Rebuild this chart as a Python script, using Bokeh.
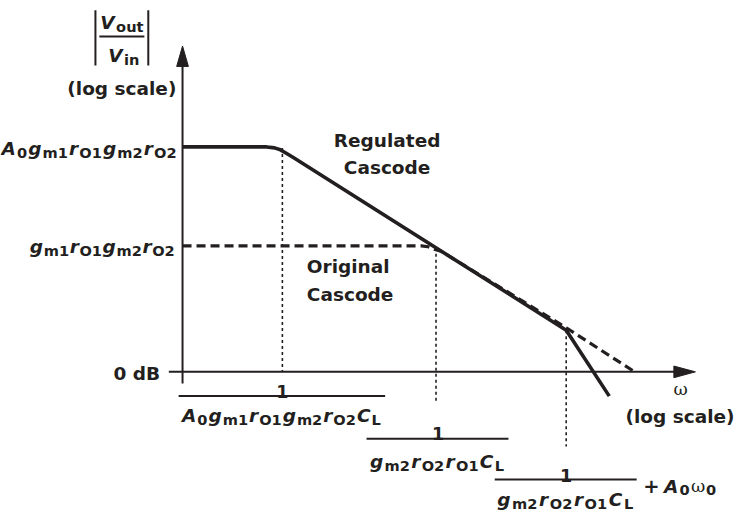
from bokeh.plotting import figure
from bokeh.models import Range1d
from bokeh.core.properties import value
from bokeh.embed import file_html
from bokeh.resources import INLINE

# ---------------- data ----------------
# diagram units: x = log(omega), y = log|Vout/Vin|; origin = axis crossing (0 dB)
reg_x = [0, 86, 94, 100, 106, 114, 392, 436]          # regulated cascode
reg_y = [232, 232, 231, 229, 225.5, 220.5, 43, -25]
orig_x = [0, 244, 251, 257, 264, 392, 462]             # original cascode
orig_y = [130, 130, 129, 126.5, 124.5, 45.5, 0]
pole_x = [102, 259, 392]                               # corner frequencies
pole_top = [231, 128, 43]                              # curve level at each corner

# label contents (text, kind): I = italic symbol, S = subscript, G = greek
ytick_top = [("A", "I"), ("0", "S"), ("g", "I"), ("m1", "S"), ("r", "I"), ("O1", "S"),
             ("g", "I"), ("m2", "S"), ("r", "I"), ("O2", "S")]
ytick_mid = ytick_top[2:]
ytick_zero = "0 dB"
den1 = ytick_top + [("C", "I"), ("L", "S")]
den2 = [("g", "I"), ("m2", "S"), ("r", "I"), ("O2", "S"), ("r", "I"), ("O1", "S"),
        ("C", "I"), ("L", "S")]
den3 = den2
extra3 = [("A", "I"), ("0", "S"), ("ω", "G"), ("0", "S")]
curve_labels = [["Regulated", "Cascode"], ["Original", "Cascode"]]
axis_scale = "(log scale)"
x_symbol = "ω"

# ---------------- styling ----------------
INK = "#231f20"
FONT = "DejaVu Sans"
CW, CH = 736, 511            # canvas size
RW, RH = 752, 527            # layout size (layout units)
PX, PY = RW / CW, RH / CH    # layout units per canvas pixel
KINDS = {
    "I": dict(font=FONT, size=18.5, style="bold italic"),
    "S": dict(font=FONT, size=14.6, style="bold"),
    "T": dict(font=FONT, size=18.5, style="bold"),
    "N": dict(font=FONT, size=17.5, style="bold"),
    "P": dict(font=FONT, size=19.5, style="bold"),
    "G": dict(font="DejaVu Serif", size=17.5, style="normal"),
}
W = {"A": .774, "B": .762, "C": .734, "L": .637, "O": .850, "V": .774, "a": .675, "c": .593,
     "d": .716, "e": .678, "g": .716, "i": .343, "l": .343, "m": 1.042, "n": .712, "o": .687,
     "r": .493, "s": .595, "t": .478, "u": .712, " ": .348, "(": .457, ")": .457, "+": .838,
     "ω": .80}
for dgt in "0123456789":
    W[dgt] = .696
SUB_DROP = 4 * PY
LIFT = 4                     # baseline correction for free-standing labels


def X(px):
    return px - 186


def Y(py):
    return 383 - py


p = figure(width=CW, height=CH, output_backend="svg", toolbar_location=None,
           x_range=Range1d(X(0), X(RW)), y_range=Range1d(Y(RH), Y(0)),
           min_border=0, outline_line_color=None, background_fill_color="white")
p.xaxis.visible = False
p.yaxis.visible = False
p.grid.visible = False

groups = {}


def put(kind, x, y, text, align="left", lift=LIFT):
    g = groups.setdefault((kind, align), dict(x=[], y=[], text=[]))
    g["x"].append(x)
    g["y"].append(y + lift)
    g["text"].append(text)


def tw(s, kind):
    return sum(W.get(c, .6) for c in s) * KINDS[kind]["size"] * PX


def rich(segs, x, y, align="left", target=None, gap=1.0, lift=LIFT):
    widths = [tw(t, k) for t, k in segs]
    nat = sum(widths)
    if target is not None and len(segs) > 1:
        gap = max(0.0, (target - nat) / (len(segs) - 1))
    total = nat + gap * (len(segs) - 1)
    x0 = x - total if align == "right" else (x - total / 2 if align == "center" else x)
    cx = x0
    for (t, k), w in zip(segs, widths):
        put(k, cx, y - SUB_DROP if k == "S" else y, t, lift=lift)
        cx += w + gap
    return x0, total


# ---------------- axes ----------------
p.segment(x0=[0, X(172)], y0=[Y(395), 0], x1=[0, X(692)], y1=[Y(66), 0],
          line_width=2, line_color=INK)
p.patches(xs=[[0, -6, 6], [X(710), X(688), X(688)]],
          ys=[[Y(47), Y(68), Y(68)], [0, 6, -6]], fill_color=INK, line_color=INK)

# ---------------- curves ----------------
p.segment(x0=pole_x, y0=pole_top, x1=pole_x, y1=[0, Y(413), Y(460)],
          line_width=1.6, line_dash="3 3", line_color=INK)
p.line(orig_x, orig_y, line_width=3.2, line_dash="9 5", line_color=INK)
p.line(reg_x, reg_y, line_width=3.6, line_color=INK, line_join="round")

# ---------------- y label |Vout/Vin| ----------------
rich([("V", "I"), ("out", "S")], X(102), Y(29), gap=1.5, lift=6)
rich([("V", "I"), ("in", "S")], X(110), Y(60), gap=1.5, lift=3)
bars_x0 = [X(101), X(97), X(151)]
bars_y0 = [Y(37), Y(10), Y(10)]
bars_x1 = [X(147), X(97), X(151)]
bars_y1 = [Y(37), Y(67), Y(67)]
put("T", X(124), Y(95), axis_scale, "center")

# ---------------- y ticks ----------------
rich(ytick_top, X(180), Y(157), "right", target=179)
rich(ytick_mid, X(178), Y(258), "right", target=148)
put("T", X(163), Y(389), ytick_zero, "right")

# ---------------- curve labels ----------------
put("T", X(395), Y(148), curve_labels[0][0], "center")
put("T", X(395), Y(176), curve_labels[0][1], "center")
put("T", X(313), Y(278), curve_labels[1][0], "left")
put("T", X(313), Y(307), curve_labels[1][1], "left")

# ---------------- x axis labels ----------------
put("G", X(695), Y(405), x_symbol, "center")
put("T", X(750), Y(433), axis_scale, "right")

# fraction 1
put("N", X(288), Y(403), "1", "center", lift=0)
bars_x0.append(X(182)); bars_x1.append(X(393)); bars_y0.append(Y(408)); bars_y1.append(Y(408))
rich(den1, X(287), Y(428), "center", target=203, lift=0)
# fraction 2
put("N", X(447), Y(447), "1", "center", lift=0)
bars_x0.append(X(374)); bars_x1.append(X(519)); bars_y0.append(Y(452)); bars_y1.append(Y(452))
rich(den2, X(446), Y(475), "center", target=137, lift=0)
# fraction 3
put("N", X(578), Y(490), "1", "center", lift=0)
bars_x0.append(X(505)); bars_x1.append(X(650)); bars_y0.append(Y(494)); bars_y1.append(Y(494))
rich(den3, X(577), Y(515), "center", target=139, lift=0)
put("P", X(665), Y(501), "+", "center", lift=0)
rich(extra3, X(678), Y(501), "left", gap=1.2, lift=0)

p.segment(x0=bars_x0, y0=bars_y0, x1=bars_x1, y1=bars_y1, line_width=2, line_color=INK)

for (kind, align), g in groups.items():
    k = KINDS[kind]
    p.text(x=g["x"], y=g["y"], text=g["text"], text_font=value(k["font"]),
           text_font_size=value(f'{k["size"]}px'), text_font_style=k["style"],
           text_align=align, text_baseline="alphabetic", text_color=INK)

open("out.html", "w").write(file_html(p, INLINE))
